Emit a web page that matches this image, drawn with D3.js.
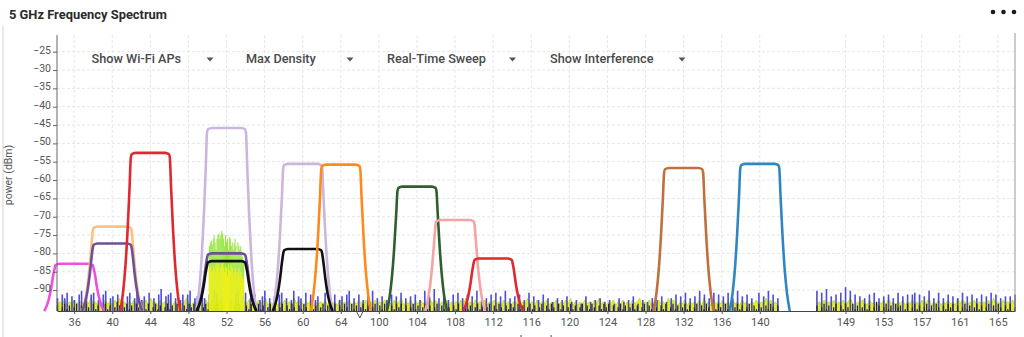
<!DOCTYPE html>
<html>
<head>
<meta charset="utf-8">
<script src="https://cdn.jsdelivr.net/npm/d3@7"></script>
<style>
  body { margin: 0; background: #fff; }
  svg { display: block; font-family: Roboto, "Noto Sans", sans-serif; }
</style>
</head>
<body>
<svg id="chart" width="1024" height="337"></svg>
<script>
// ---- data ----
const yTicks = [-90, -85, -80, -75, -70, -65, -60, -55, -50, -45, -40, -35, -30, -25];
const channelTicks = [36, 40, 44, 48, 52, 56, 60, 64, 100, 104, 108, 112, 116, 120, 124, 128, 132, 136, 140, 149, 153, 157, 161, 165];

// access points: channel and peak power (dBm)
const apChannels = [36, 40, 40, 44, 52, 52, 52, 60, 60, 64, 104, 108, 112, 132, 140];
const apPeaks = [-82.8, -72.7, -77.3, -52.6, -45.8, -80.0, -82.1, -55.6, -78.8, -55.8, -61.8, -70.9, -81.4, -56.7, -55.6];

const menuLabels = ["Show Wi-Fi APs", "Max Density", "Real-Time Sweep", "Show Interference"];

// noise floor (dBm)
const noiseFloor = -95.7;

// sweep segments (channel from / to); each string holds one sample per character,
// in half-dB steps above the floor (hex digits 0-f)
const noiseSegments = [[34.25, 65.9], [98.1, 141.9], [146, 166.8]];
const maxDensityNoise = [
  "4546354645536474535464536474535463545637453645463546357435465364535463745354635464536457354635464537465354635454637453645463546",
  "54635463546453645735463546453746535463545463745364546354645364535463547453645463546354647353546453647453546354645364573546354645374653546354546374536454635464536453546354746353",
  "453645463546357435465364535463745354635464536457354635464537465354635454637453645463"
];
const sweepNoise = [
  "7097a08609b0809a0609b078090608a07b0680a0709c089a0706909b0780a7096b9070a8609b08a0709068b070809a0706b0870a0906800a070906809b0709",
  "06090b07080609080a070809060b080c070806090a0709080b0607090a080b070809060a08060907050706080506040805060705060407050608040605070608050709080a07080b09070a09080a070b08090700a080b0907",
  "b0a0c08090a0d0b090807090a070809070a080909a09080b070a070908070a08090709080a0907080809"
];
const peakNoise = [
  "3024130240314204130241302530241304230140241302413042031424030241302413024031420314024130241302403142031420413024130240314204130",
  "24130240314203142403024130241302403142031402413024130240314203142041302413024031420413024130240314203142403024130241302403142031402413024130240314203142041302413024031420314203",
  "302413024031420413024130253024130423014024130241304203142403024130241302403142031402"
];

// interference burst around channel 52 (0.1-channel steps from 50.2)
const interferenceStart = 50.2;
const interferenceStep = 0.1;
const interferencePeak = [-78, -77, -76.5, -77.5, -76, -75, -77, -79, -76, -75, -74.5, -76, -75, -73.8, -74.5, -76, -78, -75, -77, -76, -79, -75.5, -76, -78, -77, -79, -77.5, -76, -78, -80, -77, -78, -79, -78, -80, -81, -82];
const interferenceAvg = [-84, -83, -84.5, -85, -83.5, -84, -85, -83, -82.5, -84, -83, -85.5, -84, -83, -82.5, -84, -85, -83.5, -84, -86, -83, -84.5, -85, -83, -84, -86, -85, -84, -85, -86.5, -85, -84, -86, -85, -86, -87, -87];

// ---- styles ----
const apColors = ["#ee50dc", "#ffc27e", "#6f4f9c", "#e0282e", "#cbb6dd", "#6f4f9c", "#111111",
                  "#cbb6dd", "#111111", "#ff8a1c", "#2f5f2f", "#f5a3a3", "#e0282e", "#c0703f", "#2f86c2"];

// ---- scales ----
// channels 64 -> 100 are joined: slots are channel numbers with the gap removed
const slot = ch => ch <= 66 ? ch : ch - 32;
const slotLabel = s => s <= 66 ? s : s + 32;

const x = d3.scaleLinear().domain([34.2, 134.8]).range([57, 1015]);
const y = d3.scaleLinear().domain([noiseFloor, -21]).range([311, 37]);

const svg = d3.select("#chart");

// card edge
svg.append("line").attr("x1", 3).attr("x2", 3).attr("y1", 26).attr("y2", 337)
  .attr("stroke", "#e2e2e2").attr("stroke-width", 1.5);

// title + menu dots
svg.append("text").attr("x", 9).attr("y", 19)
  .attr("font-size", 13).attr("font-weight", 700).attr("fill", "#2b2b2b")
  .attr("textLength", 158).attr("lengthAdjust", "spacingAndGlyphs")
  .text("5 GHz Frequency Spectrum");
svg.selectAll("circle.dot").data([993, 1003.5, 1014]).join("circle")
  .attr("class", "dot").attr("cx", d => d).attr("cy", 12).attr("r", 2.3).attr("fill", "#1a1a1a");

// grid
const grid = svg.append("g").attr("stroke", "#e6e6e6").attr("stroke-dasharray", "3,2");
grid.selectAll("line.v").data(channelTicks).join("line").attr("class", "v")
  .attr("x1", d => x(slot(d))).attr("x2", d => x(slot(d)))
  .attr("y1", 35).attr("y2", 311);
grid.selectAll("line.h").data(yTicks).join("line").attr("class", "h")
  .attr("x1", 57).attr("x2", 1015)
  .attr("y1", d => y(d)).attr("y2", d => y(d));

// noise traces
const noiseLayer = svg.append("g");
function samples(str, seg) {
  const s0 = slot(seg[0]), s1 = slot(seg[1]), n = str.length;
  return Array.from(str, (c, i) => ({ s: s0 + (s1 - s0) * i / (n - 1), v: noiseFloor + parseInt(c, 16) * 0.5 }));
}
noiseSegments.forEach((seg, k) => {
  const dens = samples(maxDensityNoise[k], seg);
  noiseLayer.append("path").datum(dens)
    .attr("fill", "#e4ee22").attr("stroke", "#b5da2e").attr("stroke-width", 0.8)
    .attr("d", d3.area().x(d => x(d.s)).y0(y(noiseFloor)).y1(d => y(d.v)));
  const sweep = samples(sweepNoise[k], seg).filter(d => d.v > noiseFloor);
  noiseLayer.append("g").selectAll("line").data(sweep).join("line")
    .attr("x1", d => x(d.s)).attr("x2", d => x(d.s))
    .attr("y1", y(noiseFloor)).attr("y2", d => y(d.v))
    .attr("stroke", "#3a3ad6").attr("stroke-width", 1.6).attr("opacity", 0.9);
  const peak = samples(peakNoise[k], seg).filter(d => d.v > noiseFloor);
  noiseLayer.append("g").selectAll("line").data(peak).join("line")
    .attr("x1", d => x(d.s)).attr("x2", d => x(d.s))
    .attr("y1", y(noiseFloor)).attr("y2", d => y(d.v))
    .attr("stroke", "#27245a").attr("stroke-width", 1.3);
});

// interference burst
const interf = svg.append("g");
interf.selectAll("line.pk").data(interferencePeak).join("line").attr("class", "pk")
  .attr("x1", (d, i) => x(slot(interferenceStart + i * interferenceStep)))
  .attr("x2", (d, i) => x(slot(interferenceStart + i * interferenceStep)))
  .attr("y1", y(noiseFloor)).attr("y2", d => y(d))
  .attr("stroke", "#84e01c").attr("stroke-width", 0.85);
interf.selectAll("line.av").data(interferenceAvg).join("line").attr("class", "av")
  .attr("x1", (d, i) => x(slot(interferenceStart + i * interferenceStep)))
  .attr("x2", (d, i) => x(slot(interferenceStart + i * interferenceStep)))
  .attr("y1", y(noiseFloor)).attr("y2", d => y(d))
  .attr("stroke", "#eef01c").attr("stroke-width", 1.1);

// access point spectral masks
function maskPoints(ch, peak) {
  const h = peak - noiseFloor, c = slot(ch);
  const side = [[1.55, peak], [1.95, peak - 0.35], [2.05, peak - 1.3],
                [2.18, noiseFloor + 0.78 * h], [2.38, noiseFloor + 0.52 * h],
                [2.62, noiseFloor + 0.28 * h], [2.86, noiseFloor + 0.12 * h], [3.15, noiseFloor]];
  const left = side.slice().reverse().map(([o, v]) => [c - o, v]);
  const right = side.map(([o, v]) => [c + o, v]);
  return left.concat(right);
}
const maskLine = d3.line().x(d => x(d[0])).y(d => y(d[1])).curve(d3.curveMonotoneX);
svg.append("g").selectAll("path").data(apChannels).join("path")
  .attr("d", (ch, i) => maskLine(maskPoints(ch, apPeaks[i])))
  .attr("fill", "none").attr("stroke", (d, i) => apColors[i])
  .attr("stroke-width", 2.6).attr("stroke-linejoin", "round");

// axes
const xAxis = d3.axisBottom(x).tickValues(channelTicks.map(slot)).tickFormat(slotLabel)
  .tickSize(3).tickPadding(4).tickSizeOuter(0);
const gx = svg.append("g").attr("transform", "translate(0,311)").call(xAxis);
gx.select(".domain").attr("stroke", "#444");
gx.selectAll(".tick line").attr("stroke", "#555");
gx.selectAll(".tick text").attr("font-size", 11).attr("fill", "#555").attr("font-family", "Roboto, sans-serif");

const yAxis = d3.axisLeft(y).tickValues(yTicks).tickSize(4).tickPadding(2).tickSizeOuter(0);
const gy = svg.append("g").attr("transform", "translate(57,0)").call(yAxis);
gy.select(".domain").attr("stroke", "#666").attr("d", "M0,35V311");
gy.selectAll(".tick line").attr("stroke", "#666");
gy.selectAll(".tick text").attr("font-size", 10.5).attr("fill", "#555").attr("dy", "0.15em")
  .attr("font-family", "Roboto, sans-serif");

// right frame edge
svg.append("line").attr("x1", 1015).attr("x2", 1015).attr("y1", 33).attr("y2", 311)
  .attr("stroke", "#999");

// break mark between 64 and 100
svg.append("path").attr("d", `M${x(66) - 3},312L${x(66)},318L${x(66) + 3},312`)
  .attr("fill", "none").attr("stroke", "#555").attr("stroke-width", 1);

// axis titles
svg.append("text").attr("x", 536).attr("y", 343).attr("text-anchor", "middle")
  .attr("font-size", 11).attr("fill", "#555").text("channels");
svg.append("text").attr("transform", "translate(12,175) rotate(-90)").attr("text-anchor", "middle")
  .attr("font-size", 10.5).attr("fill", "#555").text("power (dBm)");

// option menus
const menuX = [91.5, 246, 387, 550];
const arrowX = [210, 350, 512.5, 682];
const menus = svg.append("g");
menus.selectAll("text").data(menuLabels).join("text")
  .attr("x", (d, i) => menuX[i]).attr("y", 63)
  .attr("font-size", 12.7).attr("font-weight", 500).attr("fill", "#4a4a4a")
  .text(d => d);
menus.selectAll("path").data(menuLabels).join("path")
  .attr("d", (d, i) => `M${arrowX[i] - 3.5},57.5L${arrowX[i] + 3.5},57.5L${arrowX[i]},61.5Z`)
  .attr("fill", "#555");
</script>
</body>
</html>
